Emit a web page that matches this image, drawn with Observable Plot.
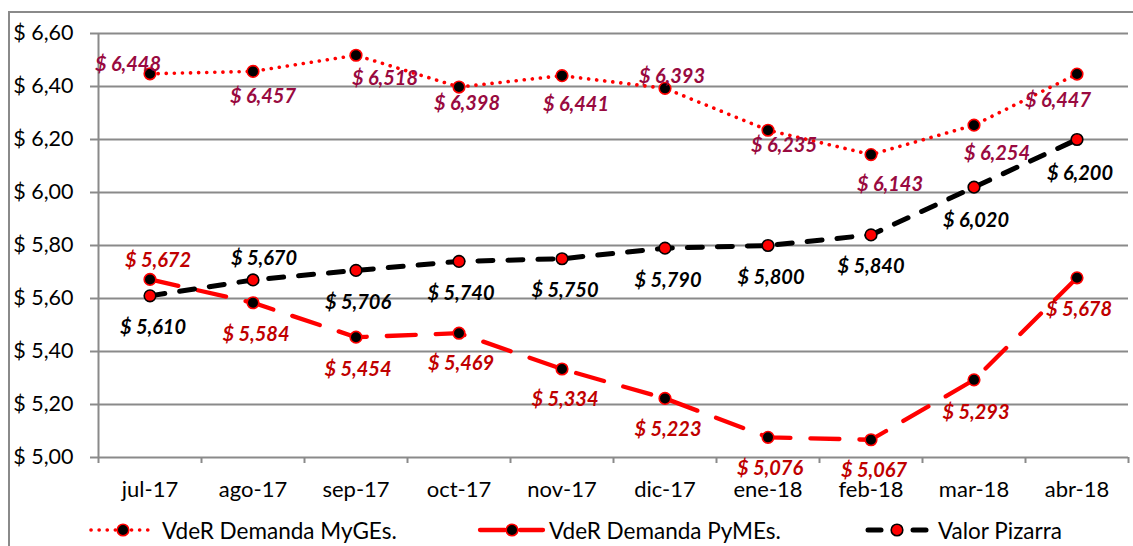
<!DOCTYPE html>
<html>
<head>
<meta charset="utf-8">
<script src="https://cdn.jsdelivr.net/npm/d3@7"></script>
<script src="https://cdn.jsdelivr.net/npm/@observablehq/plot@0.6"></script>
<style>
  html, body { margin: 0; padding: 0; background: #fff; overflow: hidden; }
  body { width: 1133px; height: 546px; position: relative; font-family: Lato, "DejaVu Sans", sans-serif; }
  #border { position: absolute; left: 8px; top: 11px; width: 1300px; height: 700px; border: 2px solid #8a8a8a; box-sizing: border-box; }
  #chart { position: absolute; left: 0; top: 0; }
  .leg { position: absolute; top: 516px; height: 28px; display: flex; align-items: center; font-size: 22.5px; color: #000; white-space: nowrap; }
  .leg svg { display: block; margin-right: 2px; }
</style>
</head>
<body>
<div id="border"></div>
<div id="chart"></div>
<div id="legend"></div>
<script>
// ---- data ----
const months = ["jul-17", "ago-17", "sep-17", "oct-17", "nov-17", "dic-17", "ene-18", "feb-18", "mar-18", "abr-18"];
const mygesValues = [6.448, 6.457, 6.518, 6.398, 6.441, 6.393, 6.235, 6.143, 6.254, 6.447];
const pymesValues = [5.672, 5.584, 5.454, 5.469, 5.334, 5.223, 5.076, 5.067, 5.293, 5.678];
const pizarraValues = [5.610, 5.670, 5.706, 5.740, 5.750, 5.790, 5.800, 5.840, 6.020, 6.200];
const yTickValues = [5.0, 5.2, 5.4, 5.6, 5.8, 6.0, 6.2, 6.4, 6.6];
const seriesNames = ["VdeR Demanda MyGEs.", "VdeR Demanda PyMEs.", "Valor Pizarra"];

// ---- label placement (layout, px offsets from each point) ----
const mygesLabelOffsets = [[-22,-9],[10,25],[29,23],[8,17],[14,29],[7,-12],[16,15],[19,30],[23,28],[-19,27]];
const pymesLabelOffsets = [[8,-19],[3,32],[2,32],[2,30],[3,31],[3,31],[2,31],[3,31],[2,33],[2,32]];
const pizarraLabelOffsets = [[3,32],[11,-21],[2,32],[2,32],[3,32],[3,32],[3,32],[0,32],[2,33],[3,34]];

const idx = months.map((_, i) => i);
const boundaries = d3.range(-0.5, months.length, 1);
const fmtAxis = d => "$ " + d3.format(".2f")(d).replace(".", ",");
const fmtLabel = d => "$ " + d3.format(".3f")(d).replace(".", ",");
const GRID = "#8a8a8a";

const series = [
  {values: mygesValues, offsets: mygesLabelOffsets, line: "#ff0000", width: 3.6, dash: "0.1 8", fill: "#000", mstroke: "#ff0000", label: "#990a40"},
  {values: pymesValues, offsets: pymesLabelOffsets, line: "#ff0000", width: 4.3, dash: "29 20", fill: "#000", mstroke: "#ff0000", label: "#c00000"},
  {values: pizarraValues, offsets: pizarraLabelOffsets, line: "#000000", width: 5, dash: "15 15", fill: "#ff0000", mstroke: "#000", label: "#000"}
];

const marks = [
  Plot.ruleY(yTickValues, {stroke: GRID, strokeWidth: 2}),
  Plot.ruleX([-0.5], {y1: 5, y2: 6.6, stroke: GRID, strokeWidth: 2}),
  Plot.axisY({ticks: yTickValues, tickSize: 8, tickPadding: 17, tickFormat: fmtAxis, fontSize: 21.5, stroke: GRID, strokeWidth: 2, color: "#000", label: null}),
  Plot.axisX({ticks: boundaries, tickSize: 6, tickFormat: () => "", stroke: GRID, strokeWidth: 2, label: null}),
  Plot.axisX({ticks: idx, tickSize: 0, tickPadding: 24, tickFormat: i => months[i], fontSize: 22, color: "#000", label: null})
];

for (const s of series) {
  marks.push(Plot.line(idx, {x: d => d, y: d => s.values[d], stroke: s.line, strokeWidth: s.width, strokeDasharray: s.dash, strokeLinecap: "round", strokeLinejoin: "round"}));
}
for (const s of series) {
  marks.push(Plot.dot(idx, {x: d => d, y: d => s.values[d], r: 5.8, fill: s.fill, stroke: s.mstroke, strokeWidth: 1.6}));
}
for (const s of series) {
  s.offsets.forEach((o, i) => {
    marks.push(Plot.text([i], {x: d => d, y: d => s.values[d], text: d => fmtLabel(s.values[d]), dx: o[0], dy: o[1], fill: s.label, fontSize: 20, fontWeight: "bold", fontStyle: "italic", textAnchor: "middle"}));
  });
}

const chart = Plot.plot({
  width: 1133,
  height: 505,
  marginLeft: 98,
  marginRight: 5,
  marginTop: 33,
  marginBottom: 48,
  style: {fontFamily: "Lato, sans-serif", background: "transparent", overflow: "visible"},
  x: {domain: [-0.5, months.length - 0.5], axis: null},
  y: {domain: [5, 6.6], axis: null},
  marks
});
document.getElementById("chart").appendChild(chart);

// ---- legend (layout) ----
// each symbol: [left x, total width, marker x, segments as [x1,x2]]
const legendLayout = [
  {left: 88, w: 72, cx: 35, segs: [[3, 66]], dash: "0.1 8"},
  {left: 477, w: 70, cx: 35, segs: [[3, 28], [43, 66]], dash: null},
  {left: 864, w: 72, cx: 33, segs: [[4, 17], [49, 62]], dash: null}
];
const legend = document.getElementById("legend");
series.forEach((s, i) => {
  const p = legendLayout[i];
  const div = document.createElement("div");
  div.className = "leg";
  div.style.left = p.left + "px";
  const svg = d3.create("svg").attr("width", p.w).attr("height", 28);
  for (const [a, b] of p.segs) {
    const ln = svg.append("line").attr("x1", a).attr("x2", b).attr("y1", 14).attr("y2", 14)
      .attr("stroke", s.line).attr("stroke-width", s.width).attr("stroke-linecap", "round");
    if (p.dash) ln.attr("stroke-dasharray", p.dash);
  }
  svg.append("circle").attr("cx", p.cx).attr("cy", 14).attr("r", 5.8)
    .attr("fill", s.fill).attr("stroke", s.mstroke).attr("stroke-width", 1.6);
  div.appendChild(svg.node());
  const span = document.createElement("span");
  span.textContent = seriesNames[i];
  div.appendChild(span);
  legend.appendChild(div);
});
</script>
</body>
</html>
